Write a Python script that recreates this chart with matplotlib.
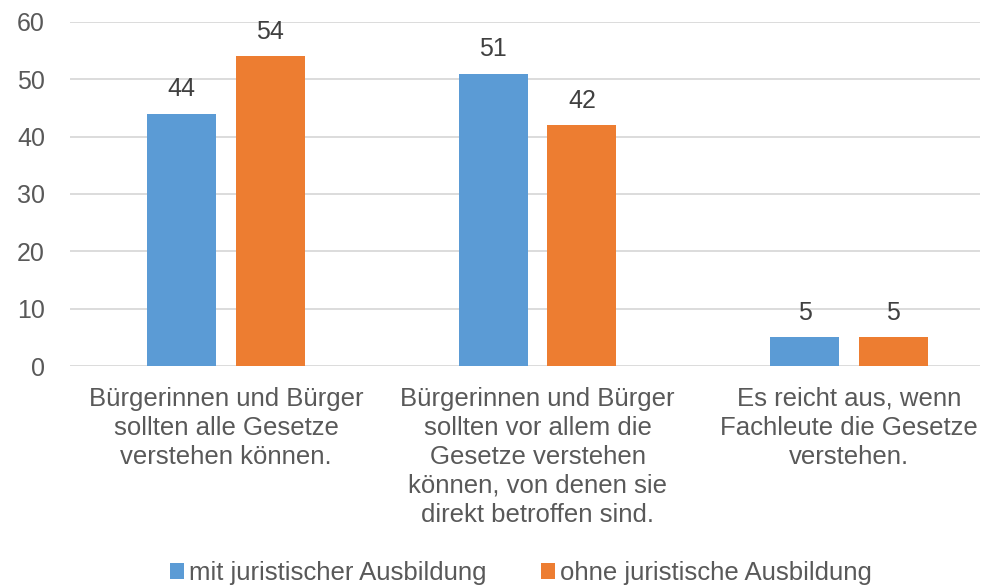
import matplotlib.pyplot as plt
import numpy as np

categories = [
    "Bürgerinnen und Bürger\nsollten alle Gesetze\nverstehen können.",
    "Bürgerinnen und Bürger\nsollten vor allem die\nGesetze verstehen\nkönnen, von denen sie\ndirekt betroffen sind.",
    "Es reicht aus, wenn\nFachleute die Gesetze\nverstehen.",
]
series_names = ["mit juristischer Ausbildung", "ohne juristische Ausbildung"]
mit_values = [44, 51, 5]
ohne_values = [54, 42, 5]
y_ticks = [0, 10, 20, 30, 40, 50, 60]

BLUE = "#5B9BD5"
ORANGE = "#ED7D31"
TEXT = "#595959"

plt.rcParams["font.family"] = ["Liberation Sans", "DejaVu Sans"]

fig = plt.figure(figsize=(9.87, 5.86), dpi=100)
ax = fig.add_axes([0.0709, 0.3754, 0.922, 0.5871])

x = np.arange(len(categories))
width = 0.2215
offset = 0.142
bars1 = ax.bar(x - offset, mit_values, width, color=BLUE, label=series_names[0], zorder=3)
bars2 = ax.bar(x + offset, ohne_values, width, color=ORANGE, label=series_names[1], zorder=3)

for bars in (bars1, bars2):
    for b in bars:
        ax.annotate(
            f"{b.get_height():g}",
            (b.get_x() + b.get_width() / 2, b.get_height()),
            xytext=(0, 9),
            textcoords="offset points",
            ha="center",
            va="bottom",
            fontsize=18,
            color="#404040",
        )

ax.set_ylim(0, 60)
ax.set_yticks(y_ticks)
ax.set_xlim(-0.5008, 2.42)
ax.set_xticks(x)
ax.set_xticklabels(categories, fontsize=18.5, color=TEXT, linespacing=1.26, va="top")
ax.tick_params(axis="y", labelsize=18, labelcolor=TEXT, length=0, pad=18)
ax.tick_params(axis="x", length=0, pad=15)
ax.grid(axis="y", color="#D9D9D9", linewidth=1.3, zorder=0)
for side in ("top", "right", "left", "bottom"):
    ax.spines[side].set_visible(False)
for lbl in ax.get_yticklabels():
    lbl.set_ha("right")

fig.legend(
    handles=[bars1, bars2],
    labels=series_names,
    loc="center",
    bbox_to_anchor=(0.528, 0.022),
    ncol=2,
    frameon=False,
    fontsize=18.5,
    labelcolor=TEXT,
    handlelength=0.55,
    handleheight=0.55,
    handletextpad=0.2,
    columnspacing=2.1,
)

fig.savefig("out.png", dpi=100)
